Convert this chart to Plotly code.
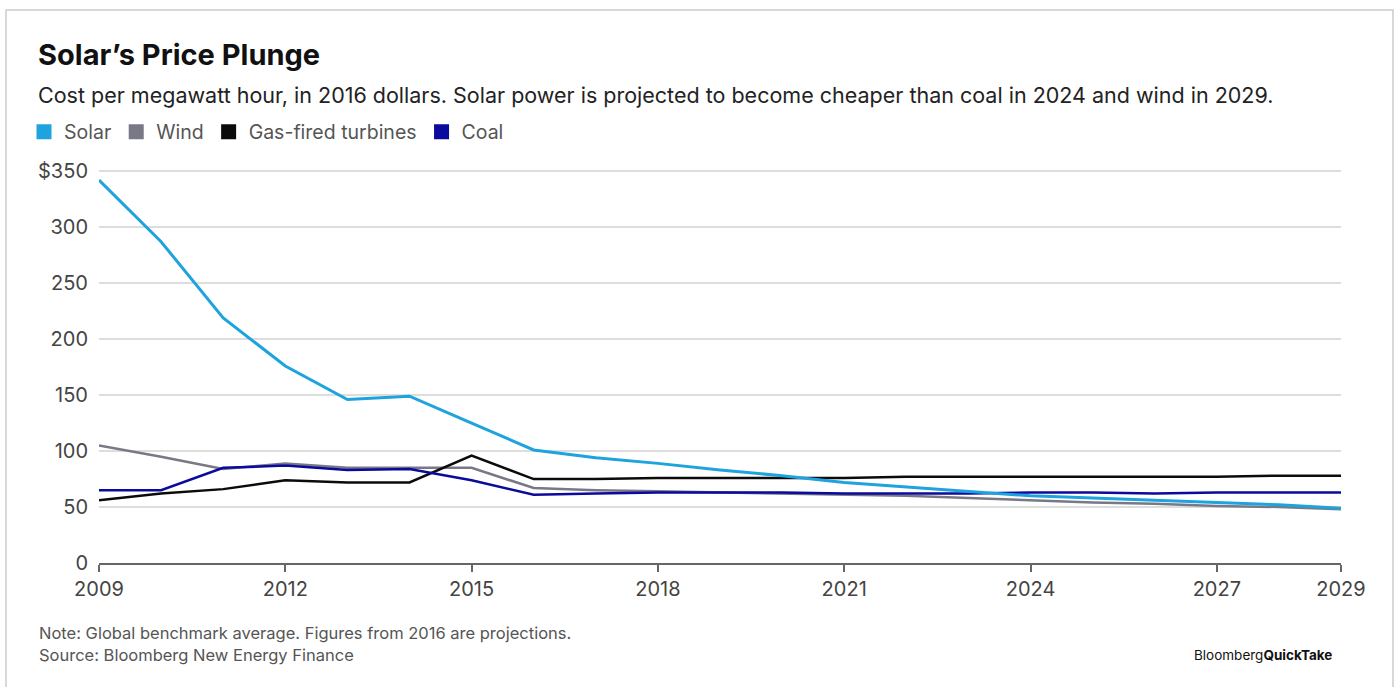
import plotly.graph_objects as go

years = list(range(2009, 2030))
solar = [342, 287, 219, 176, 146, 149, 125, 101, 94, 89, 83, 78, 72, 68, 64, 60, 58, 56, 54, 52, 49]
wind = [105, 95, 84, 89, 85, 85, 85, 67, 65, 64, 63, 62, 61, 60, 58, 56, 54, 53, 51, 50, 48]
gas = [56, 62, 66, 74, 72, 72, 96, 75, 75, 76, 76, 76, 76, 77, 77, 77, 77, 77, 77, 78, 78]
coal = [65, 65, 85, 87, 83, 84, 74, 61, 62, 63, 63, 63, 62, 62, 62, 63, 63, 62, 63, 63, 63]

series_names = ["Solar", "Wind", "Gas-fired turbines", "Coal"]
series_values = [solar, wind, gas, coal]
series_colors = ["#1ea3de", "#787887", "#0b0b0b", "#0a0a9c"]
series_widths = [3, 2.5, 2.5, 2.5]

x_tickvals = [2009, 2012, 2015, 2018, 2021, 2024, 2027, 2029]
y_tickvals = [0, 50, 100, 150, 200, 250, 300, 350]
y_ticktext = ["0", "50", "100", "150", "200", "250", "300", "$350"]

FONT = "Inter"
W, H = 1398, 687
L, R, T, B = 99, 57, 169, 124
PH = H - T - B
PW = W - L - R

def px_x(px):
    return (px - L) / PW

def px_y(py):
    return (H - B - py) / PH

fig = go.Figure()

order = [1, 2, 3, 0]
for i in order:
    fig.add_trace(go.Scatter(
        x=years, y=series_values[i], mode="lines", name=series_names[i],
        line=dict(color=series_colors[i], width=series_widths[i]),
        showlegend=False,
    ))

for i in range(4):
    fig.add_trace(go.Scatter(
        x=[None], y=[None], mode="markers", name=series_names[i],
        marker=dict(symbol="square", size=15, color=series_colors[i]),
        showlegend=True,
    ))

fig.update_layout(
    width=W, height=H,
    margin=dict(l=L, r=R, t=T, b=B),
    paper_bgcolor="white", plot_bgcolor="white",
    font=dict(family=FONT, color="#444444", size=16),
    legend=dict(
        orientation="h", x=px_x(24), xanchor="left", y=px_y(132), yanchor="middle",
        font=dict(size=19.5, color="#555555", family=FONT),
        itemclick=False, itemdoubleclick=False, bgcolor="rgba(0,0,0,0)",
        tracegroupgap=0, itemwidth=30,
    ),
    showlegend=True,
)

fig.update_xaxes(
    range=[2009, 2029], tickvals=x_tickvals, ticktext=[str(v) for v in x_tickvals],
    showgrid=False, zeroline=False, showline=True, linecolor="#666666", linewidth=1.5,
    ticks="outside", ticklen=7, tickcolor="#666666", tickwidth=1.5,
    tickfont=dict(size=20, color="#444444"),
)
fig.update_yaxes(
    range=[0, 352], tickvals=y_tickvals, ticktext=y_ticktext,
    showgrid=True, gridcolor="#dddddd", gridwidth=1.5, zeroline=False,
    showline=False, ticks="", ticklabelstandoff=10,
    tickfont=dict(size=20, color="#444444"),
)

fig.add_shape(type="rect", xref="paper", yref="paper",
              x0=px_x(6), x1=px_x(1393), y0=px_y(700), y1=px_y(10),
              line=dict(color="#cccccc", width=1.5), layer="below")

fig.add_annotation(text="<b>Solar’s Price Plunge</b>", xref="paper", yref="paper",
                   x=px_x(36), y=px_y(55), xanchor="left", yanchor="middle",
                   showarrow=False, font=dict(size=29, color="#111111", family=FONT))
fig.add_annotation(text="Cost per megawatt hour, in 2016 dollars. Solar power is projected to become cheaper than coal in 2024 and wind in 2029.",
                   xref="paper", yref="paper", x=px_x(36), y=px_y(95),
                   xanchor="left", yanchor="middle", showarrow=False,
                   font=dict(size=21.5, color="#222222", family=FONT))
fig.add_annotation(text="Note: Global benchmark average. Figures from 2016 are projections.",
                   xref="paper", yref="paper", x=px_x(37), y=px_y(633),
                   xanchor="left", yanchor="middle", showarrow=False,
                   font=dict(size=16.5, color="#555555", family=FONT))
fig.add_annotation(text="Source: Bloomberg New Energy Finance",
                   xref="paper", yref="paper", x=px_x(37), y=px_y(655),
                   xanchor="left", yanchor="middle", showarrow=False,
                   font=dict(size=16.5, color="#555555", family=FONT))
fig.add_annotation(text="Bloomberg<b>QuickTake</b>",
                   xref="paper", yref="paper", x=px_x(1334), y=px_y(655),
                   xanchor="right", yanchor="middle", showarrow=False,
                   font=dict(size=13.5, color="#111111", family=FONT))

fig.write_html("out.html")
